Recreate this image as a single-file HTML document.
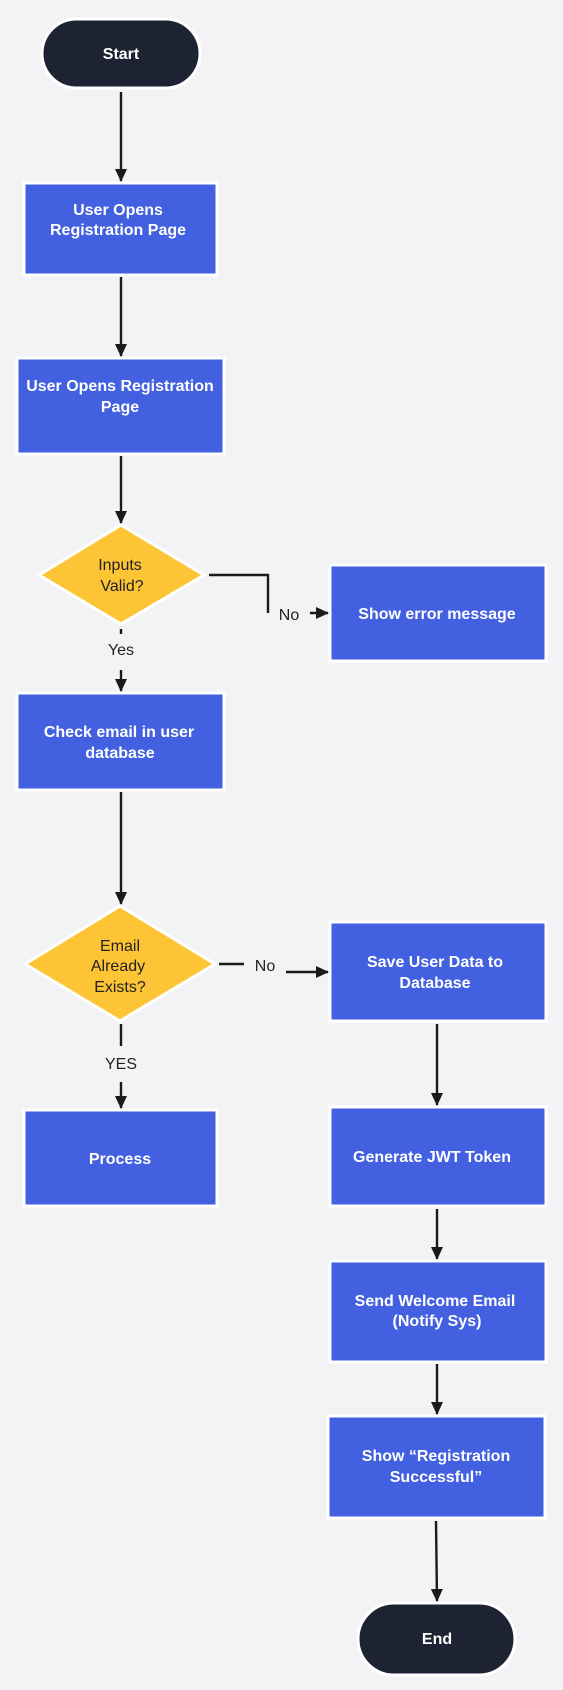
<!DOCTYPE html>
<html><head><meta charset="utf-8"><style>
html,body{margin:0;padding:0;background:#f3f3f5;}
svg{display:block}
text{font-family:"Liberation Sans",sans-serif;font-size:16px;text-anchor:middle;}
.w{fill:#fff;font-weight:bold;}
.d{fill:#222;}
</style></head><body>
<svg width="563" height="1690" viewBox="0 0 563 1690" xmlns="http://www.w3.org/2000/svg">
<defs><marker id="a" markerWidth="14" markerHeight="12" refX="12" refY="6" orient="auto" markerUnits="userSpaceOnUse"><path d="M0,0 L13,6 L0,12 z" fill="#1a1a1a"/></marker></defs>
<rect width="563" height="1690" fill="#f3f3f5"/>
<g stroke="#fff" stroke-width="3">
<rect x="42" y="19" width="158" height="69" rx="34.5" fill="#1e2333"/>
<rect x="24" y="183" width="193" height="92" fill="#4260e0"/>
<rect x="17" y="358" width="207" height="96" fill="#4260e0"/>
<polygon points="121,525 204,575 121,624 39,575" fill="#fdc436"/>
<rect x="330" y="565" width="216" height="96" fill="#4260e0"/>
<rect x="17" y="693" width="207" height="97" fill="#4260e0"/>
<polygon points="120,906 215,964 120,1021 25,964" fill="#fdc436"/>
<rect x="330" y="922" width="216" height="99" fill="#4260e0"/>
<rect x="24" y="1110" width="193" height="96" fill="#4260e0"/>
<rect x="330" y="1107" width="216" height="99" fill="#4260e0"/>
<rect x="330" y="1261" width="216" height="101" fill="#4260e0"/>
<rect x="328" y="1416" width="217" height="102" fill="#4260e0"/>
<rect x="358" y="1603" width="157" height="72" rx="36" fill="#1e2333"/>
</g>
<g stroke="#1a1a1a" stroke-width="2.4" fill="none" marker-end="url(#a)">
<line x1="121" y1="92" x2="121" y2="181"/>
<line x1="121" y1="277" x2="121" y2="356"/>
<line x1="121" y1="456" x2="121" y2="523"/>
<line x1="310" y1="613" x2="328" y2="613"/>
<line x1="121" y1="670" x2="121" y2="691"/>
<line x1="121" y1="792" x2="121" y2="904"/>
<line x1="286" y1="972" x2="328" y2="972"/>
<line x1="121" y1="1082" x2="121" y2="1108"/>
<line x1="437" y1="1024" x2="437" y2="1105"/>
<line x1="437" y1="1209" x2="437" y2="1259"/>
<line x1="437" y1="1364" x2="437" y2="1414"/>
<line x1="436" y1="1521" x2="437" y2="1601"/>
</g>
<g stroke="#1a1a1a" stroke-width="2.4" fill="none">
<polyline points="209,575 268,575 268,613"/>
<line x1="121" y1="629" x2="121" y2="634"/>
<line x1="219" y1="964" x2="244" y2="964"/>
<line x1="121" y1="1024" x2="121" y2="1046"/>
</g>
<text class="w" x="121" y="59">Start</text>
<text class="w" x="118" y="215">User Opens</text>
<text class="w" x="118" y="235">Registration Page</text>
<text class="w" x="120" y="391">User Opens Registration</text>
<text class="w" x="120" y="412">Page</text>
<text class="d" x="120" y="570">Inputs</text>
<text class="d" x="122" y="591">Valid?</text>
<text class="d" x="289" y="620">No</text>
<text class="w" x="437" y="619">Show error message</text>
<text class="d" x="121" y="655">Yes</text>
<text class="w" x="119" y="737">Check email in user</text>
<text class="w" x="120" y="758">database</text>
<text class="d" x="120" y="951">Email</text>
<text class="d" x="118" y="971">Already</text>
<text class="d" x="120" y="992">Exists?</text>
<text class="d" x="265" y="971">No</text>
<text class="w" x="435" y="967">Save User Data to</text>
<text class="w" x="435" y="988">Database</text>
<text class="d" x="121" y="1069">YES</text>
<text class="w" x="120" y="1164">Process</text>
<text class="w" x="432" y="1162">Generate JWT Token</text>
<text class="w" x="435" y="1306">Send Welcome Email</text>
<text class="w" x="437" y="1326">(Notify Sys)</text>
<text class="w" x="436" y="1461">Show “Registration</text>
<text class="w" x="436" y="1482">Successful”</text>
<text class="w" x="437" y="1644">End</text>
</svg>
</body></html>
